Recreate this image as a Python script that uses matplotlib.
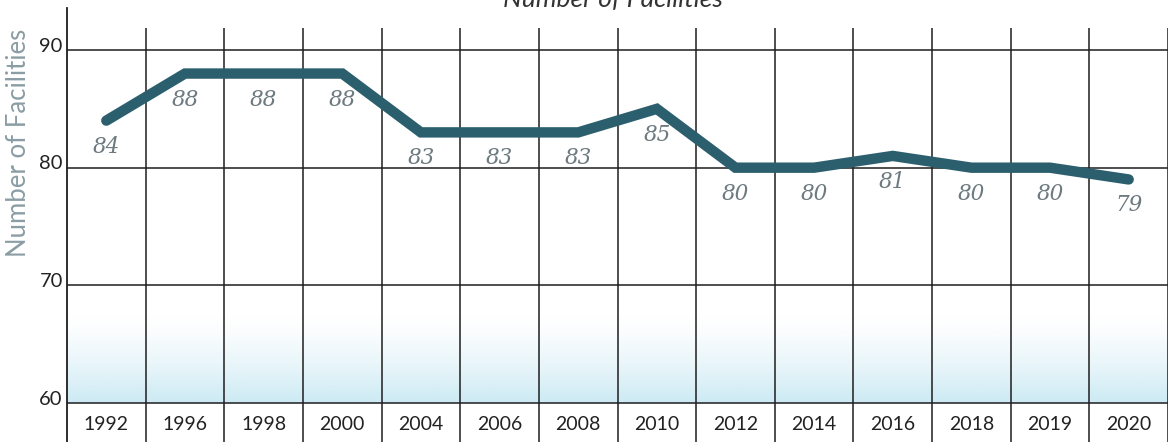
import numpy as np
import matplotlib.pyplot as plt
import matplotlib.transforms as mtransforms

# Number of facilities by survey year
years = ['1992', '1996', '1998', '2000', '2004', '2006', '2008',
         '2010', '2012', '2014', '2016', '2018', '2019', '2020']
facilities = [84, 88, 88, 88, 83, 83, 83, 85, 80, 80, 81, 80, 80, 79]

LINE_COLOR = '#2c5f6d'
GRID_COLOR = '#1e1e1e'
LABEL_GRAY = '#6d7a80'

plt.rcParams['font.family'] = ['Lato', 'DejaVu Sans']

fig = plt.figure(figsize=(11.69, 4.42), dpi=100)
ax = fig.add_axes([67 / 1169, 0, 1101 / 1169, 434 / 442])

x = np.arange(len(years))
ax.set_xlim(-0.5, len(years) - 0.5)
ax.set_ylim(56.69, 93.57)

# soft blue band at the bottom of the plot
grad = np.linspace(0, 1, 256) ** 1.4
rgba = np.zeros((256, 1, 4))
rgba[..., 0] = 0.80
rgba[..., 1] = 0.92
rgba[..., 2] = 0.96
rgba[:, 0, 3] = grad
ax.imshow(rgba, extent=(-0.5, len(years) - 0.5, 60, 67.5),
          aspect='auto', origin='upper', zorder=0)

# grid: horizontal rules and category separators
for yv in [60, 70, 80, 90]:
    ax.axhline(yv, color=GRID_COLOR, lw=1.1, zorder=1)
ax.vlines(x + 0.5, 56.69, 91.87, color=GRID_COLOR, lw=1.1, zorder=1)

ax.plot(x, facilities, color=LINE_COLOR, lw=7.5,
        solid_capstyle='round', solid_joinstyle='miter', zorder=3)

for xi, v in zip(x, facilities):
    ax.annotate(str(v), (xi, v), xytext=(0, -26), textcoords='offset pixels',
                ha='center', va='center', fontsize=15.5, style='italic',
                family='DejaVu Serif', color=LABEL_GRAY, zorder=4)

for xi, yr in zip(x, years):
    ax.text(xi, 58.2, yr, ha='center', va='center', fontsize=14,
            color='#222222')

ax.set_xticks([])
ax.set_yticks([60, 70, 80, 90])
ax.set_yticklabels(['60', '70', '80', '90'], fontsize=14.5, color='#222222',
                   va='center')
ax.tick_params(axis='y', length=0, pad=3)
lift = mtransforms.ScaledTranslation(0, 4 / 100, fig.dpi_scale_trans)
for lbl in ax.get_yticklabels():
    lbl.set_transform(lbl.get_transform() + lift)

for side in ['top', 'right', 'bottom']:
    ax.spines[side].set_visible(False)
ax.spines['left'].set_color(GRID_COLOR)
ax.spines['left'].set_linewidth(1.3)

fig.text(19 / 1169, 1 - 143 / 442, 'Number of Facilities', rotation=90,
         ha='center', va='center', fontsize=18.5, color='#8a9ca4')

fig.text(613 / 1169, 1 - 7 / 442, 'Number of Facilities', ha='center',
         va='baseline', fontsize=19, style='italic', color='#333333')

fig.savefig('out.png', dpi=100)
